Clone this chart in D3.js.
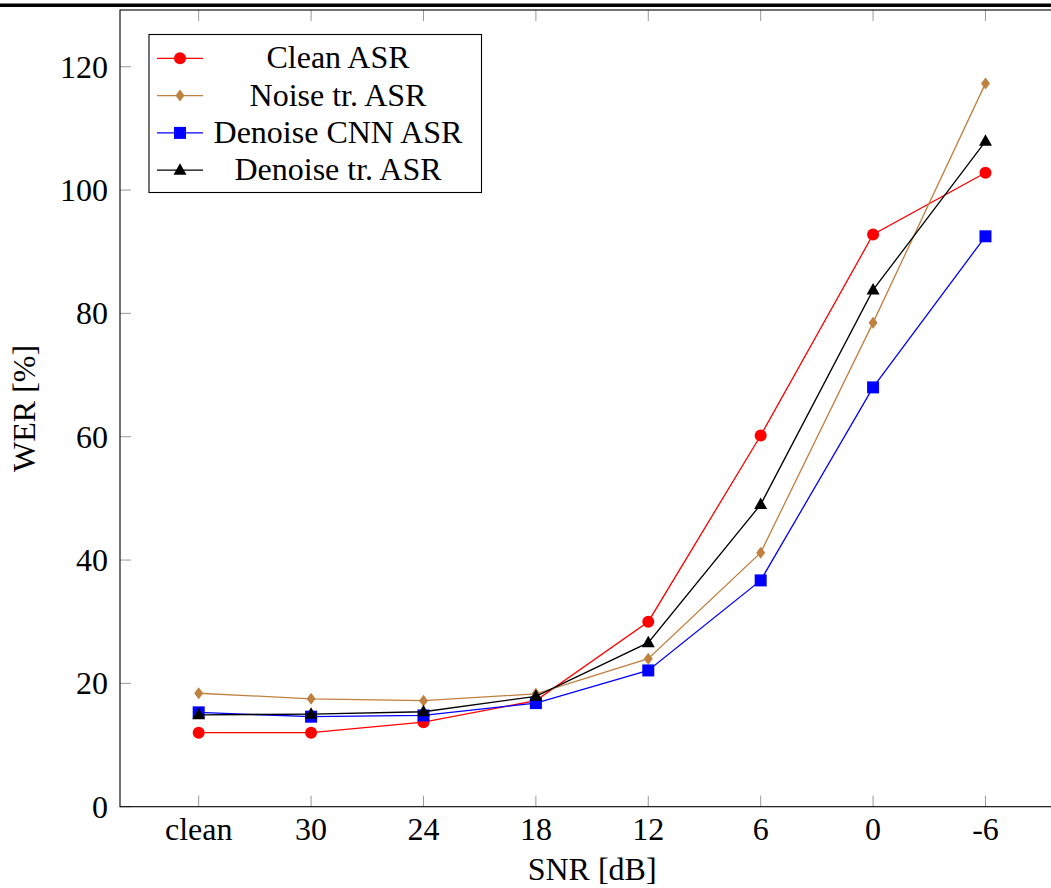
<!DOCTYPE html>
<html>
<head>
<meta charset="utf-8">
<script src="https://cdnjs.cloudflare.com/ajax/libs/d3/7.8.5/d3.min.js"></script>
<style>
  body { margin: 0; background: #fff; }
  svg { display: block; overflow: hidden; }
  text { font-family: "Liberation Serif", "Times New Roman", serif; fill: #000; }
</style>
</head>
<body>
<div id="chart"></div>
<script>
const w = 1051, h = 888;

const categories = ["clean", "30", "24", "18", "12", "6", "0", "-6"];
const yTicks = [0, 20, 40, 60, 80, 100, 120];

const cleanASR    = [12.0, 12.0, 13.7, 17.2, 30.0, 60.2, 92.8, 102.8];
const noiseTrASR  = [18.4, 17.5, 17.2, 18.3, 24.0, 41.2, 78.5, 117.3];
const denoiseCNN  = [15.3, 14.6, 14.8, 16.8, 22.1, 36.7, 68.0, 92.5];
const denoiseTr   = [14.9, 15.0, 15.4, 17.9, 26.6, 49.0, 83.8, 107.9];

const series = [
  {name: "Clean ASR", values: cleanASR, color: "#ff0000", mark: "circle"},
  {name: "Noise tr. ASR", values: noiseTrASR, color: "#bf8040", mark: "diamond"},
  {name: "Denoise CNN ASR", values: denoiseCNN, color: "#0000ff", mark: "square"},
  {name: "Denoise tr. ASR", values: denoiseTr, color: "#000000", mark: "triangle"}
];

const pLeft = 120, pTop = 10, pBottom = 806.7;
const step = 112.4;
const pRight = pLeft + step * 8.4;

const x = d3.scaleLinear().domain([-0.7, 7.7]).range([pLeft, pRight]);
const y = d3.scaleLinear().domain([0, 129.2]).range([pBottom, pTop]);

const svg = d3.select("#chart").append("svg")
  .attr("width", w).attr("height", h)
  .attr("viewBox", "0 0 " + w + " " + h);

// rule above the figure
svg.append("rect").attr("x", 0).attr("y", 3.5).attr("width", w).attr("height", 3.5).style("fill", "#000");

// ticks (inward, both sides)
const tk = 11;
const gT = svg.append("g").style("stroke", "#9a9a9a").style("stroke-width", 1);
categories.forEach((c, i) => {
  gT.append("line").attr("x1", x(i)).attr("x2", x(i)).attr("y1", pBottom).attr("y2", pBottom - tk);
  gT.append("line").attr("x1", x(i)).attr("x2", x(i)).attr("y1", pTop).attr("y2", pTop + tk);
});
yTicks.forEach(v => {
  gT.append("line").attr("x1", pLeft).attr("x2", pLeft + tk).attr("y1", y(v)).attr("y2", y(v));
  gT.append("line").attr("x1", pRight).attr("x2", pRight - tk).attr("y1", y(v)).attr("y2", y(v));
});

// axis box
svg.append("rect").attr("x", pLeft).attr("y", pTop)
  .attr("width", pRight - pLeft).attr("height", pBottom - pTop)
  .style("fill", "none").style("stroke", "#000").style("stroke-width", 1.1);

// tick labels
svg.selectAll(null).data(categories).enter().append("text")
  .attr("x", (d, i) => x(i)).attr("y", 840)
  .attr("text-anchor", "middle").style("font-size", "32px")
  .text(d => d);

svg.selectAll(null).data(yTicks).enter().append("text")
  .attr("x", 108).attr("y", d => y(d) + 11)
  .attr("text-anchor", "end").style("font-size", "32px")
  .text(d => d);

// axis labels
svg.append("text").attr("x", (pLeft + pRight) / 2).attr("y", 880)
  .attr("text-anchor", "middle").style("font-size", "32px").text("SNR [dB]");
svg.append("text").attr("transform", "translate(35," + ((pTop + pBottom) / 2) + ") rotate(-90)")
  .attr("text-anchor", "middle").style("font-size", "32px").text("WER [%]");

// markers
function drawMark(g, type, cx, cy, color) {
  if (type === "circle") {
    g.append("circle").attr("cx", cx).attr("cy", cy).attr("r", 6).style("fill", color);
  } else if (type === "square") {
    g.append("rect").attr("x", cx - 6).attr("y", cy - 6).attr("width", 12).attr("height", 12).style("fill", color);
  } else if (type === "diamond") {
    g.append("path").attr("d", `M${cx},${cy - 6}L${cx + 4.5},${cy}L${cx},${cy + 6}L${cx - 4.5},${cy}Z`).style("fill", color);
  } else if (type === "triangle") {
    g.append("path").attr("d", `M${cx},${cy - 7}L${cx + 6.5},${cy + 4.5}L${cx - 6.5},${cy + 4.5}Z`).style("fill", color);
  }
}

const line = d3.line().x((d, i) => x(i)).y(d => y(d));

series.forEach(s => {
  const g = svg.append("g");
  g.append("path").attr("d", line(s.values))
    .style("fill", "none").style("stroke", s.color).style("stroke-width", 1.3);
  s.values.forEach((v, i) => drawMark(g, s.mark, x(i), y(v), s.color));
});

// legend
const lg = svg.append("g");
lg.append("rect").attr("x", 149).attr("y", 34.5).attr("width", 332.5).attr("height", 158)
  .style("fill", "#fff").style("stroke", "#000").style("stroke-width", 1.1);
series.forEach((s, i) => {
  const cy = 58.3 + i * 37.3;
  lg.append("line").attr("x1", 157).attr("x2", 203).attr("y1", cy).attr("y2", cy)
    .style("stroke", s.color).style("stroke-width", 1.3);
  drawMark(lg, s.mark, 180, cy, s.color);
  lg.append("text").attr("x", 338).attr("y", cy + 10)
    .attr("text-anchor", "middle").style("font-size", "32px").text(s.name);
});
</script>
</body>
</html>
